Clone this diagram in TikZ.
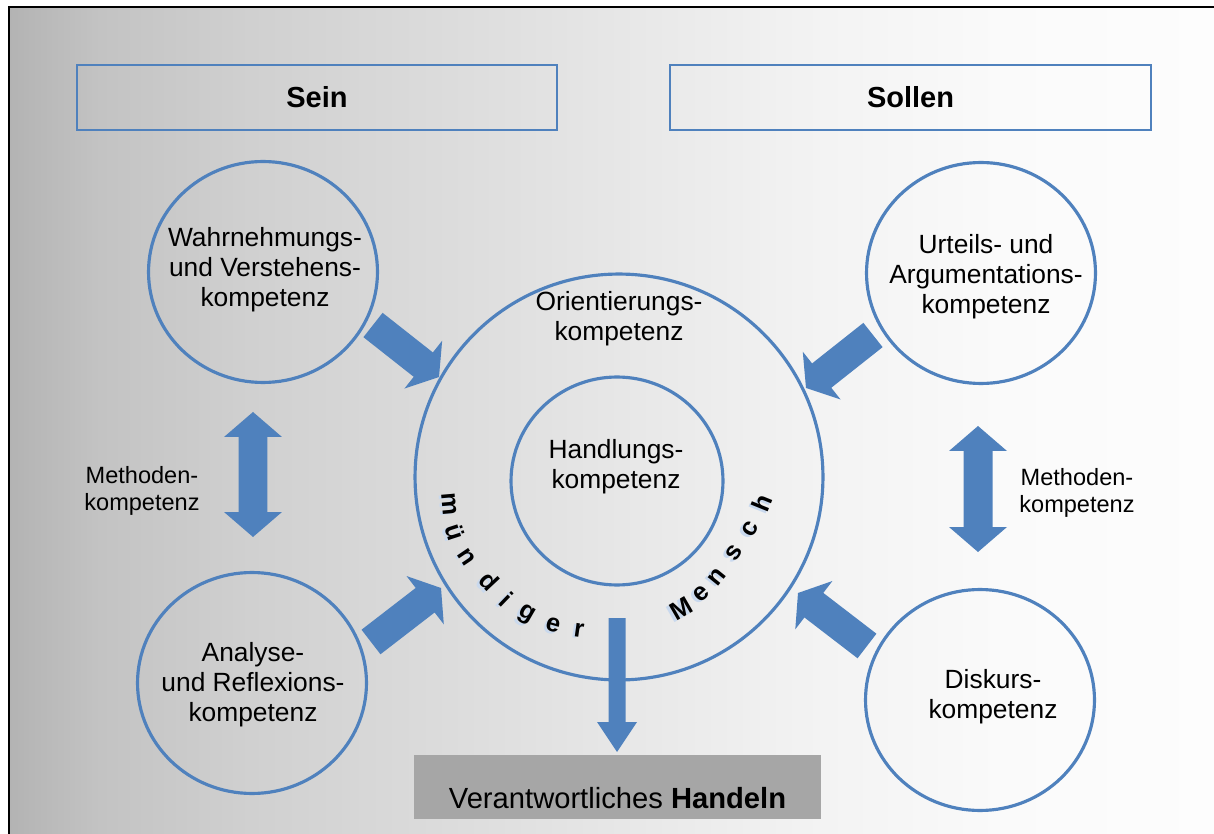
\documentclass[tikz,border=0pt]{standalone}
\usepackage{fontspec}
\setmainfont{Liberation Sans}
\usetikzlibrary{calc,shapes.geometric}
\definecolor{ablue}{HTML}{4F81BD}
\definecolor{shblue}{HTML}{C9D9EE}
\definecolor{boxgray}{HTML}{A6A6A6}
\definecolor{bgA}{HTML}{B3B3B3}
\definecolor{bgB}{HTML}{C3C3C3}
\definecolor{bgC}{HTML}{D0D0D0}
\definecolor{bgD}{HTML}{DCDCDC}
\definecolor{bgE}{HTML}{E7E7E7}
\definecolor{bgF}{HTML}{F2F2F2}
\definecolor{bgG}{HTML}{FAFAFA}
\definecolor{bgH}{HTML}{FDFDFD}
\pgfdeclarehorizontalshading{bgshade}{100bp}{color(0bp)=(bgA); color(25bp)=(bgA); color(28.8bp)=(bgB); color(35bp)=(bgC); color(43.3bp)=(bgD); color(50.4bp)=(bgE); color(57.8bp)=(bgF); color(66.1bp)=(bgG); color(75bp)=(bgH); color(100bp)=(bgH)}
\newcommand{\blockarrow}[5]{%
  \coordinate (ba-b) at ($(#2)!#5!(#1)$);
  \fill[ablue] ($(#1)!#3!90:(#2)$) -- ($(ba-b)!#3!-90:(#1)$) -- ($(ba-b)!#4!-90:(#1)$) -- (#2)
    -- ($(ba-b)!#4!90:(#1)$) -- ($(ba-b)!#3!90:(#1)$) -- ($(#1)!#3!-90:(#2)$) -- cycle;}
\newcommand{\dblarrow}[5]{%
  \coordinate (da-a) at ($(#1)!#5!(#2)$);
  \coordinate (da-b) at ($(#2)!#5!(#1)$);
  \fill[ablue] (#1) -- ($(da-a)!#4!90:(#2)$) -- ($(da-a)!#3!90:(#2)$) -- ($(da-b)!#3!-90:(#1)$)
    -- ($(da-b)!#4!-90:(#1)$) -- (#2) -- ($(da-b)!#4!90:(#1)$) -- ($(da-b)!#3!90:(#1)$)
    -- ($(da-a)!#3!-90:(#2)$) -- ($(da-a)!#4!-90:(#2)$) -- cycle;}
\newcommand{\curvl}[4]{%
  \node[curv, text=shblue, rotate=#4] at ($(#1,#2)+(-2.5,1.5)$) {#3};
  \node[curv, rotate=#4] at (#1,#2) {#3};}
\begin{document}
\begin{tikzpicture}[x=0.02cm, y=-0.02cm,
  ring/.style={ellipse, draw=ablue, line width=1.8pt, inner sep=0pt},
  ctext/.style={align=center, inner sep=0pt, font=\fontsize{15}{17}\selectfont},
  mtext/.style={align=center, inner sep=0pt, font=\fontsize{13.4}{15.4}\selectfont},
  hdr/.style={rectangle, draw=ablue, line width=1.6pt, inner sep=0pt,
    font=\fontsize{16.5}{19}\selectfont\bfseries, minimum height=1.3cm},
  curv/.style={inner sep=0pt, font=\fontsize{14.5}{16}\selectfont\bfseries}]
\useasboundingbox (0,0) rectangle (1214,834);
\fill[white] (0,0) rectangle (1214,834);
\shade[shading=bgshade] (9,7) rectangle (1214,834);
\draw[black, line width=1.2pt] (9,834) -- (9,7) -- (1214,7);

% header boxes
\node[hdr, minimum width=9.6cm] (sein) at (317,97.5) {Sein};
\node[hdr, minimum width=9.62cm] (sollen) at (910.5,97.5) {Sollen};

% circles
\node[ring, minimum width=4.58cm, minimum height=4.42cm] (wahr) at (263,272) {};
\node[ring, minimum width=4.58cm, minimum height=4.42cm] (urteil) at (981,273) {};
\node[ring, minimum width=4.58cm, minimum height=4.42cm] (analyse) at (252,683) {};
\node[ring, minimum width=4.58cm, minimum height=4.42cm] (diskurs) at (980,700) {};
\node[ring, minimum width=8.16cm, minimum height=8.12cm] (outer) at (619,477) {};
\node[ring, minimum width=4.24cm, minimum height=4.16cm] (inner) at (617,481) {};

% texts
\node[ctext] (wahr-t) at (265,270) {Wahrnehmungs-\\und Verstehens-\\kompetenz};
\node[ctext] (urteil-t) at (986,277) {Urteils- und\\Argumentations-\\kompetenz};
\node[ctext] (analyse-t) at (253,685) {Analyse-\\und Reflexions-\\kompetenz};
\node[ctext] (diskurs-t) at (993,697) {Diskurs-\\kompetenz};
\node[ctext] (orient-t) at (619,319) {Orientierungs-\\kompetenz};
\node[ctext] (handl-t) at (616,467) {Handlungs-\\kompetenz};
\node[mtext] (meth-l) at (142,491) {Methoden-\\kompetenz};
\node[mtext] (meth-r) at (1077,493) {Methoden-\\kompetenz};

% bottom box
\node[rectangle, fill=boxgray, minimum width=8.14cm, minimum height=1.28cm, inner sep=0pt] (handeln) at (617.5,787) {};
\node[inner sep=0pt, font=\fontsize{16.6}{19}\selectfont] (handeln-t) at (617.5,798) {Verantwortliches \textbf{Handeln}};

% block arrows
\coordinate (a1s) at (373,325); \coordinate (a1e) at (439,377);
\coordinate (a2s) at (873,335); \coordinate (a2e) at (806,388);
\coordinate (a3s) at (371,642); \coordinate (a3e) at (441,588);
\coordinate (a4s) at (867,646); \coordinate (a4e) at (798,593);
\coordinate (a5s) at (617,618); \coordinate (a5e) at (617,752);
\blockarrow{a1s}{a1e}{0.31cm}{0.61cm}{0.4cm}
\blockarrow{a2s}{a2e}{0.31cm}{0.61cm}{0.4cm}
\blockarrow{a3s}{a3e}{0.31cm}{0.61cm}{0.4cm}
\blockarrow{a4s}{a4e}{0.31cm}{0.61cm}{0.4cm}
\blockarrow{a5s}{a5e}{0.17cm}{0.4cm}{0.6cm}
\coordinate (d1a) at (253,412); \coordinate (d1b) at (253,537);
\coordinate (d2a) at (978,426); \coordinate (d2b) at (978,552);
\dblarrow{d1a}{d1b}{0.29cm}{0.58cm}{0.5cm}
\dblarrow{d2a}{d2b}{0.29cm}{0.58cm}{0.5cm}

% curved text
\curvl{449}{504}{m}{-85}
\curvl{455}{532}{ü}{-72}
\curvl{467}{557}{n}{-56}
\curvl{489}{581}{d}{-47}
\curvl{506}{599}{i}{-44}
\curvl{526}{615}{g}{-30}
\curvl{553}{625}{e}{-16}
\curvl{579}{630}{r}{-8}
\curvl{681}{609}{M}{30}
\curvl{701}{594}{e}{42}
\curvl{717}{577}{n}{51}
\curvl{734}{553}{s}{55}
\curvl{750}{529}{c}{60}
\curvl{762}{503}{h}{68}
\end{tikzpicture}
\end{document}
